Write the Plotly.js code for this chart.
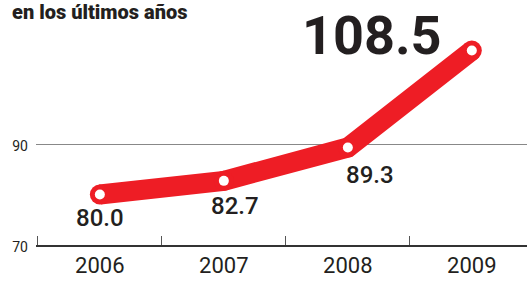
<!DOCTYPE html>
<html><head><meta charset="utf-8">
<script src="https://cdn.plot.ly/plotly-3.0.1.min.js"></script>
<style>html,body{margin:0;padding:0;background:#fff;}#c{width:527px;height:282px;}</style>
</head><body><div id="c"></div>
<script>
const years = ['2006','2007','2008','2009'];
const values = [80.0, 82.7, 89.3, 108.5];
const valueLabels = ['80.0','82.7','89.3','108.5'];
const yTicks = [70, 90];
const subtitle = 'en los últimos años';

const RED = '#ee1d25';
const DARK = '#231f20';
const FONT = 'Roboto, Arial, sans-serif';

const traces = [
  {x: years, y: values, mode: 'lines', line: {color: RED, width: 20}, hoverinfo: 'skip', showlegend: false},
  {x: years, y: values, mode: 'markers', marker: {color: RED, size: 20}, hoverinfo: 'skip', showlegend: false},
  {x: years, y: values, mode: 'markers', marker: {color: '#ffffff', size: 10}, hoverinfo: 'skip', showlegend: false}
];

// [xshift, yshift, size, weight]
const labelStyle = [[0,-23,24,500],[11,-25,24,500],[22,-27,24,500],[-100,15,54,700]];
const annotations = values.map((v,i)=>({
  x: i, y: v, xref: 'x', yref: 'y', text: valueLabels[i], showarrow: false,
  xshift: labelStyle[i][0], yshift: labelStyle[i][1],
  font: {family: FONT, size: labelStyle[i][2], color: DARK, weight: labelStyle[i][3]}
}));
annotations.push({
  x: (10-36)/491, y: 0.972, xref: 'paper', yref: 'paper', xanchor: 'left', yanchor: 'bottom',
  text: subtitle, showarrow: false,
  font: {family: FONT, size: 20, color: DARK, weight: 900}
});

const layout = {
  width: 527, height: 282,
  margin: {l: 36, r: 0, t: 20, b: 37},
  paper_bgcolor: '#fff', plot_bgcolor: '#fff',
  showlegend: false,
  xaxis: {
    type: 'category', range: [-0.515, 3.445],
    showline: true, linecolor: '#333', linewidth: 1.5,
    ticks: 'inside', tickson: 'boundaries', ticklen: 9, tickcolor: '#555', tickwidth: 1,
    showgrid: false, zeroline: false,
    tickfont: {family: FONT, size: 22, color: DARK}
  },
  yaxis: {
    range: [70, 70 + 225/5.05], tickvals: yTicks, ticktext: yTicks.map(String),
    showline: false, zeroline: false, showgrid: true, gridcolor: '#888', gridwidth: 1,
    ticks: '', ticklabelstandoff: 7, ticklabelshift: 2,
    tickfont: {family: FONT, size: 14, color: DARK}
  },
  annotations: annotations
};
Plotly.newPlot('c', traces, layout, {displayModeBar: false, staticPlot: true});
</script></body></html>
